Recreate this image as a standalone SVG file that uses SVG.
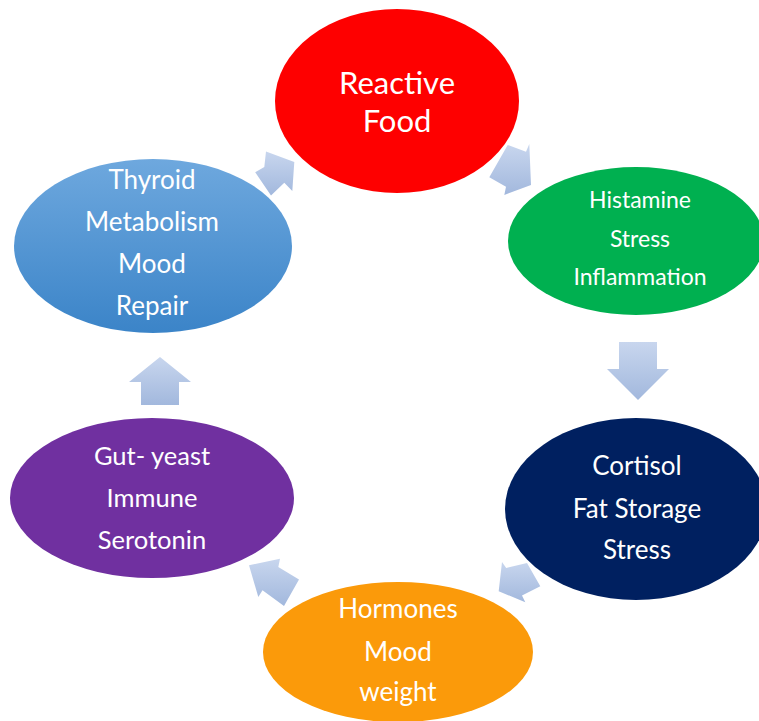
<svg xmlns="http://www.w3.org/2000/svg" width="759" height="721" viewBox="0 0 759 721">
<defs>
<linearGradient id="gBlue" x1="0" y1="0" x2="0" y2="1"><stop offset="0" stop-color="#6ea8de"/><stop offset="1" stop-color="#3b84c8"/></linearGradient>
<linearGradient id="gArrow" x1="0" y1="0" x2="0" y2="1"><stop offset="0" stop-color="#c8d6ee"/><stop offset="1" stop-color="#a2b8dd"/></linearGradient>
</defs>
<style>
text{font-family:Lato,"Liberation Sans",sans-serif;fill:#ffffff;text-anchor:middle}
.arrow{fill:url(#gArrow)}
</style>
<rect width="759" height="721" fill="#ffffff"/>
<g id="connectors">
<polygon class="arrow" points="255.2,172.2 264.3,167 266,151.5 294.3,162 292.3,191 284.3,182.7 271,195.5"/>
<polygon class="arrow" points="507.7,145 526,151.7 529.3,144 531,185 504.3,195 506,186.7 489.3,177.3"/>
<polygon class="arrow" points="619,342 657,342 657,369 669,369 638,400 607,369 619,369"/>
<polygon class="arrow" points="527,563 506.2,568 502,562 498.7,591.3 525.3,602.2 522,595.5 540.3,586.3"/>
<polygon class="arrow" points="299,579.5 278.3,567 280,558.7 249,565.3 258.3,597 262.5,590.3 284,606"/>
<polygon class="arrow" points="141,405 179,405 179,382 191,382 160,357 129,382 141,382"/>
</g>
<g id="reactive-food">
<ellipse cx="397" cy="101" rx="122" ry="92" fill="#fe0000"/>
<text x="397" y="94" font-size="31">Reactive</text>
<text x="397" y="132" font-size="31">Food</text>
</g>
<g id="histamine">
<ellipse cx="636" cy="241" rx="128" ry="74" fill="#00b050"/>
<text x="640" y="208" font-size="23">Histamine</text>
<text x="640" y="247" font-size="23">Stress</text>
<text x="640" y="285" font-size="23">Inflammation</text>
</g>
<g id="cortisol">
<ellipse cx="636" cy="509" rx="131" ry="91" fill="#002060"/>
<text x="637" y="475" font-size="26">Cortisol</text>
<text x="637" y="518" font-size="26">Fat Storage</text>
<text x="637" y="559" font-size="26">Stress</text>
</g>
<g id="hormones">
<ellipse cx="398" cy="652" rx="135" ry="70" fill="#fb9a0a"/>
<text x="398" y="618" font-size="26">Hormones</text>
<text x="398" y="661" font-size="26">Mood</text>
<text x="398" y="701" font-size="26">weight</text>
</g>
<g id="gut-yeast">
<ellipse cx="152" cy="498" rx="142" ry="80" fill="#7030a0"/>
<text x="152" y="465" font-size="25.5">Gut- yeast</text>
<text x="152" y="507" font-size="25.5">Immune</text>
<text x="152" y="549" font-size="25.5">Serotonin</text>
</g>
<g id="thyroid">
<ellipse cx="153" cy="246" rx="139" ry="87" fill="url(#gBlue)"/>
<text x="152" y="189" font-size="26">Thyroid</text>
<text x="152" y="231" font-size="26">Metabolism</text>
<text x="152" y="273" font-size="26">Mood</text>
<text x="152" y="315" font-size="26">Repair</text>
</g>
</svg>
